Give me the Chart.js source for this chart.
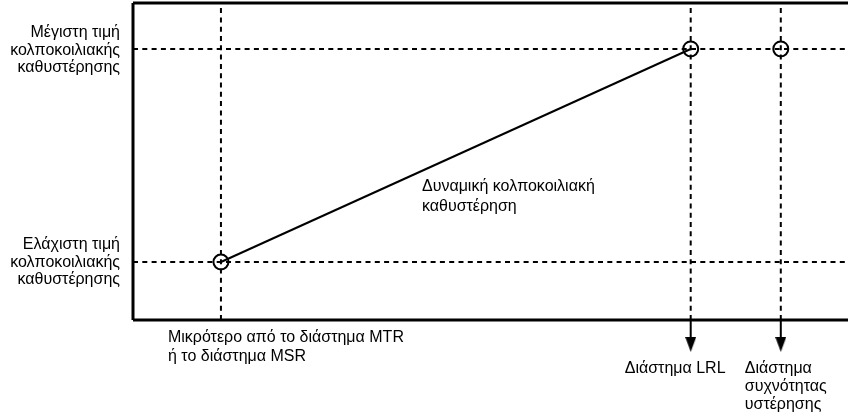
<!DOCTYPE html>
<html>
<head>
<meta charset="utf-8">
<script src="https://cdn.jsdelivr.net/npm/chart.js@4/dist/chart.umd.min.js"></script>
<style>
  html, body { margin: 0; padding: 0; background: #ffffff; }
  #wrap { width: 848px; height: 416px; }
</style>
</head>
<body>
<div id="wrap"><canvas id="c" width="848" height="416"></canvas></div>
<script>
// ---- Data (axis positions, in % of each axis) ----
const intervalNames = ['MTR/MSR', 'LRL', 'Hysteresis'];
const intervalX = [12.3, 78.0, 90.6];          // x positions of the three intervals
const avDelayLevels = [18.3, 85.5];            // minimum, maximum AV delay
const dynamicAvDelayX = [12.3, 78.0];          // dynamic AV delay ramp, start/end interval
const dynamicAvDelayY = [18.3, 85.5];          // dynamic AV delay ramp, min/max delay
const markerX = [12.3, 78.0, 90.6];            // circled points
const markerY = [18.3, 85.5, 85.5];
const arrowX = [78.0, 90.6];                   // downward arrows below the x axis
const arrowEnd = -7.7;

// ---- Texts ----
const maxLabel = ['Μέγιστη τιμή', 'κολποκοιλιακής', 'καθυστέρησης'];
const minLabel = ['Ελάχιστη τιμή', 'κολποκοιλιακής', 'καθυστέρησης'];
const rampLabel = ['Δυναμική κολποκοιλιακή', 'καθυστέρηση'];
const mtrLabel = ['Μικρότερο από το διάστημα MTR', 'ή το διάστημα MSR'];
const lrlLabel = ['Διάστημα LRL'];
const hystLabel = ['Διάστημα', 'συχνότητας', 'υστέρησης'];

// ---- Arrow head image ----
const arrowHead = document.createElement('canvas');
arrowHead.width = 11; arrowHead.height = 15;
(function () {
  const g = arrowHead.getContext('2d');
  g.fillStyle = '#000';
  g.beginPath(); g.moveTo(0, 0); g.lineTo(11, 0); g.lineTo(5.5, 15); g.closePath(); g.fill();
})();

const datasets = [];
const DASH = [5, 4.3];
// vertical dashed guides
intervalX.forEach(x => datasets.push({
  data: [{x: x, y: 0}, {x: x, y: 100}],
  borderColor: '#000', borderWidth: 2, borderDash: DASH, pointRadius: 0, clip: false, order: 5
}));
// horizontal dashed guides
avDelayLevels.forEach(y => datasets.push({
  data: [{x: 0, y: y}, {x: 100, y: y}],
  borderColor: '#000', borderWidth: 2, borderDash: DASH, pointRadius: 0, clip: false, order: 5
}));
// frame (top, left, bottom)
[[{x: 0, y: 100}, {x: 100, y: 100}], [{x: 0, y: 0}, {x: 0, y: 100}], [{x: 0, y: 0}, {x: 100, y: 0}]]
  .forEach(seg => datasets.push({
    data: seg, borderColor: '#000', borderWidth: 3, pointRadius: 0, clip: false, order: 4
  }));
// dynamic AV delay ramp
datasets.push({
  data: dynamicAvDelayX.map((x, i) => ({x: x, y: dynamicAvDelayY[i]})),
  borderColor: '#000', borderWidth: 2, pointRadius: 0, clip: false, order: 3
});
// circled points
datasets.push({
  data: markerX.map((x, i) => ({x: x, y: markerY[i]})),
  showLine: false, pointRadius: 7.5, pointBorderWidth: 2,
  pointBorderColor: '#000', pointBackgroundColor: 'rgba(0,0,0,0)', clip: false, order: 2
});
// arrows
arrowX.forEach(x => datasets.push({
  data: [{x: x, y: 0}, {x: x, y: arrowEnd}],
  borderColor: '#000', borderWidth: 2, pointRadius: [0, 8],
  pointStyle: arrowHead, clip: false, order: 1
}));

const textPlugin = {
  id: 'labels',
  afterDraw(chart) {
    const ctx = chart.ctx;
    const xs = chart.scales.x, ys = chart.scales.y;
    ctx.save();
    ctx.fillStyle = '#000';
    ctx.font = '16px "Liberation Sans", Arial, sans-serif';
    ctx.textBaseline = 'middle';
    const block = (lines, x, y, align, lh) => {
      ctx.textAlign = align;
      lines.forEach((t, i) => ctx.fillText(t, x, y + i * lh));
    };
    const left = xs.getPixelForValue(0);
    block(maxLabel, left - 13, ys.getPixelForValue(avDelayLevels[1]) - 16, 'right', 17.5);
    block(minLabel, left - 13, ys.getPixelForValue(avDelayLevels[0]) - 17, 'right', 17.5);
    block(rampLabel, xs.getPixelForValue(intervalX[0]) + 201, ys.getPixelForValue(avDelayLevels[0]) - 75, 'left', 20);
    block(mtrLabel, xs.getPixelForValue(intervalX[0]) - 53, ys.getPixelForValue(0) + 18, 'left', 18.5);
    block(lrlLabel, xs.getPixelForValue(intervalX[1]) - 66, ys.getPixelForValue(0) + 49, 'left', 18);
    block(hystLabel, xs.getPixelForValue(intervalX[2]) - 36, ys.getPixelForValue(0) + 49, 'left', 18);
    ctx.restore();
  }
};

new Chart(document.getElementById('c'), {
  type: 'line',
  data: { datasets: datasets },
  options: {
    responsive: false,
    animation: false,
    events: [],
    layout: { autoPadding: false, padding: { left: 133, top: 3, right: 0, bottom: 64.3 } },
    plugins: { legend: { display: false }, tooltip: { enabled: false } },
    scales: {
      x: { type: 'linear', min: 0, max: 100, display: false },
      y: { type: 'linear', min: -10, max: 100, display: false }
    }
  },
  plugins: [textPlugin]
});
</script>
</body>
</html>
